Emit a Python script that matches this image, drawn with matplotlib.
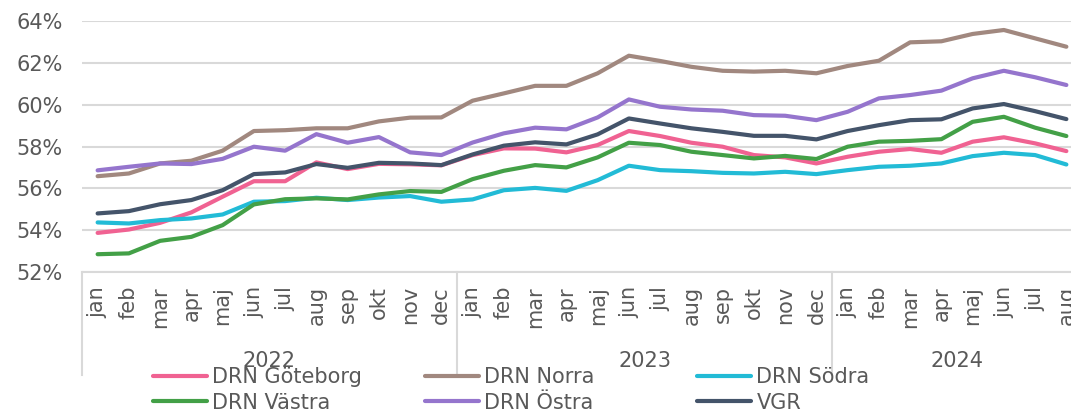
import numpy as np
import matplotlib
matplotlib.use("Agg")
import matplotlib.pyplot as plt
from matplotlib.lines import Line2D
import matplotlib.transforms as mtransforms

# month labels (Swedish) for jan 2022 .. aug 2024
months = ["jan", "feb", "mar", "apr", "maj", "jun", "jul", "aug", "sep", "okt", "nov", "dec"] * 2 + \
         ["jan", "feb", "mar", "apr", "maj", "jun", "jul", "aug"]
years = ["2022", "2023", "2024"]
year_counts = [12, 12, 8]

goteborg = [53.87, 54.03, 54.35, 54.85, 55.60, 56.34, 56.34, 57.24, 56.92, 57.17, 57.15, 57.10,
            57.59, 57.91, 57.90, 57.72, 58.07, 58.74, 58.50, 58.18, 57.99, 57.59, 57.48, 57.19,
            57.51, 57.75, 57.88, 57.70, 58.23, 58.44, 58.15, 57.78]
norra = [56.58, 56.71, 57.19, 57.32, 57.80, 58.74, 58.78, 58.87, 58.87, 59.20, 59.38, 59.39,
         60.19, 60.54, 60.90, 60.90, 61.50, 62.34, 62.09, 61.81, 61.62, 61.58, 61.62, 61.50,
         61.85, 62.10, 62.98, 63.03, 63.38, 63.57, 63.17, 62.77]
sodra = [54.37, 54.32, 54.48, 54.56, 54.75, 55.36, 55.39, 55.55, 55.44, 55.56, 55.63, 55.36,
         55.47, 55.91, 56.02, 55.88, 56.39, 57.08, 56.87, 56.82, 56.74, 56.71, 56.79, 56.68,
         56.87, 57.03, 57.08, 57.19, 57.54, 57.70, 57.59, 57.14]
vastra = [52.85, 52.89, 53.49, 53.68, 54.24, 55.23, 55.48, 55.52, 55.47, 55.71, 55.87, 55.83,
          56.44, 56.84, 57.11, 57.00, 57.48, 58.18, 58.07, 57.75, 57.59, 57.43, 57.55, 57.40,
          57.99, 58.23, 58.27, 58.35, 59.18, 59.42, 58.90, 58.50]
ostra = [56.86, 57.03, 57.19, 57.16, 57.41, 57.99, 57.80, 58.59, 58.18, 58.45, 57.72, 57.59,
         58.19, 58.63, 58.90, 58.82, 59.39, 60.25, 59.90, 59.77, 59.71, 59.50, 59.47, 59.26,
         59.66, 60.30, 60.46, 60.67, 61.26, 61.62, 61.31, 60.94]
vgr = [54.80, 54.91, 55.24, 55.44, 55.91, 56.68, 56.76, 57.16, 56.98, 57.22, 57.19, 57.11,
       57.62, 58.04, 58.20, 58.10, 58.58, 59.34, 59.10, 58.87, 58.70, 58.51, 58.51, 58.34,
       58.74, 59.02, 59.26, 59.30, 59.82, 60.03, 59.69, 59.31]

series = [
    ("DRN Göteborg", goteborg, "#F06292"),
    ("DRN Norra", norra, "#A1887F"),
    ("DRN Södra", sodra, "#22BBD6"),
    ("DRN Västra", vastra, "#43A047"),
    ("DRN Östra", ostra, "#9575CD"),
    ("VGR", vgr, "#44546A"),
]

W, H = 1071, 411
text_color = "#595959"
grid_color = "#d9d9d9"
fs = 15

fig = plt.figure(figsize=(W / 100, H / 100), dpi=100)
ax = fig.add_axes([82 / W, 1 - 272 / H, 1000 / W, 251 / H])

x = np.arange(len(months))
handles = {}
for name, vals, col in series:
    ln, = ax.plot(x, vals, color=col, lw=3, solid_capstyle="round", solid_joinstyle="round", label=name)
    handles[name] = ln

ax.set_xlim(-0.5, len(months) - 0.5)
ax.set_ylim(52, 64)
ax.set_yticks(np.arange(52, 65, 2))
ax.set_yticklabels([f"{v}%" for v in range(52, 65, 2)])
ax.grid(axis="y", color=grid_color, lw=1.5)
ax.set_axisbelow(True)
for s in ["top", "right", "left"]:
    ax.spines[s].set_visible(False)
ax.spines["bottom"].set_color(grid_color)
ax.spines["bottom"].set_linewidth(1.5)

ax.set_xticks(x)
ax.set_xticklabels(months, rotation=90)
ax.tick_params(axis="x", length=0, pad=10, labelsize=fs, labelcolor=text_color)
ax.tick_params(axis="y", length=0, pad=14, labelsize=fs, labelcolor=text_color)

# year groups below the month labels
trans = mtransforms.blended_transform_factory(ax.transData, ax.transAxes)
start = 0
bounds = [start]
for yr, n in zip(years, year_counts):
    center = start + (n - 1) / 2
    ax.text(center, -0.355, yr, transform=trans, ha="center", va="center",
            fontsize=fs, color=text_color)
    start += n
    bounds.append(start)
for b in bounds:
    ax.plot([b - 0.5, b - 0.5], [0, -0.41], transform=trans, color=grid_color,
            lw=1.5, clip_on=False)

# legend: three equal-width columns
cols = [("DRN Göteborg", "DRN Västra"), ("DRN Norra", "DRN Östra"), ("DRN Södra", "VGR")]
col_x = [153, 425, 697]
for cx, names in zip(col_x, cols):
    hs = [Line2D([], [], color=handles[n].get_color(), lw=3, solid_capstyle="round") for n in names]
    leg = fig.legend(hs, names, loc="center left", bbox_to_anchor=(cx / W, 1 - 390 / H),
                     frameon=False, borderpad=0, borderaxespad=0, fontsize=fs,
                     handlelength=2.6, handletextpad=0.25, labelspacing=0.25)
    for t in leg.get_texts():
        t.set_color(text_color)

fig.savefig("out.png", dpi=100)
